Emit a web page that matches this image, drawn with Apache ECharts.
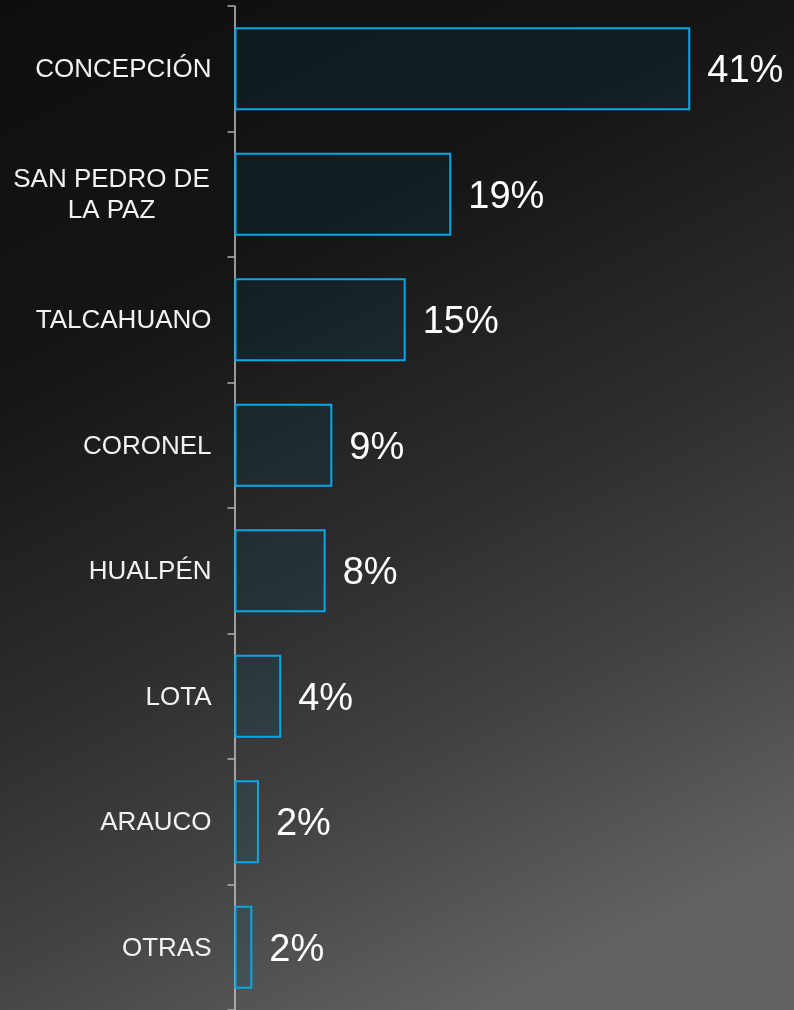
<!DOCTYPE html>
<html>
<head>
<meta charset="utf-8">
<script src="https://cdn.jsdelivr.net/npm/echarts@6/dist/echarts.min.js"></script>
<style>
html,body{margin:0;padding:0;width:794px;height:1010px;overflow:hidden;}
#chart{width:794px;height:1010px;}
</style>
</head>
<body>
<div id="chart"></div>
<script>
const categories = ['CONCEPCIÓN', 'SAN PEDRO DE\nLA PAZ', 'TALCAHUANO', 'CORONEL', 'HUALPÉN', 'LOTA', 'ARAUCO', 'OTRAS'];
const values = [41.0, 19.5, 15.4, 8.8, 8.2, 4.2, 2.2, 1.6];
const valueLabels = ['41%', '19%', '15%', '9%', '8%', '4%', '2%', '2%'];

const FONT = "'Liberation Sans', Arial, sans-serif";
const chart = echarts.init(document.getElementById('chart'), null, {renderer: 'canvas'});
chart.setOption({
  backgroundColor: {
    type: 'linear', x: 0, y: 0, x2: 500, y2: 1010, global: true,
    colorStops: [
      {offset: 0, color: '#0e0e0e'},
      {offset: 0.31, color: '#151515'},
      {offset: 0.40, color: '#1d1d1d'},
      {offset: 0.59, color: '#2e2e2e'},
      {offset: 0.775, color: '#434343'},
      {offset: 1, color: '#636363'}
    ]
  },
  animation: false,
  grid: {left: 234.5, right: 3.7, top: 6, bottom: -1.6, containLabel: false},
  xAxis: {
    type: 'value', min: 0, max: 50, show: false
  },
  yAxis: {
    type: 'category',
    inverse: true,
    data: categories,
    axisLine: {show: true, lineStyle: {color: '#c4c4c4', width: 1.5}},
    axisTick: {show: true, length: 7, lineStyle: {color: '#b0b0b0', width: 1.5}},
    axisLabel: {
      color: '#f2f2f2',
      fontFamily: FONT,
      fontSize: 26,
      margin: 23,
      lineHeight: 31,
      padding: [3, 0, 0, 0],
      formatter: function (v) {
        if (v.indexOf('\n') >= 0) {
          return v.split('\n').map(function (s) { return '{c|' + s + '}'; }).join('\n');
        }
        return v;
      },
      rich: {
        c: {width: 200, align: 'center', color: '#f2f2f2', fontSize: 26, lineHeight: 31, fontFamily: FONT}
      }
    },
    splitLine: {show: false}
  },
  series: [{
    type: 'bar',
    data: values,
    barCategoryGap: '34%',
    itemStyle: {
      color: 'rgba(0,80,115,0.16)',
      borderColor: '#06a8e8',
      borderWidth: 2
    },
    label: {
      show: true,
      position: 'right',
      distance: 17,
      color: '#ffffff',
      fontSize: 38,
      fontFamily: FONT,
      offset: [0, 3],
      formatter: function (p) { return valueLabels[p.dataIndex]; }
    }
  }]
});
</script>
</body>
</html>
